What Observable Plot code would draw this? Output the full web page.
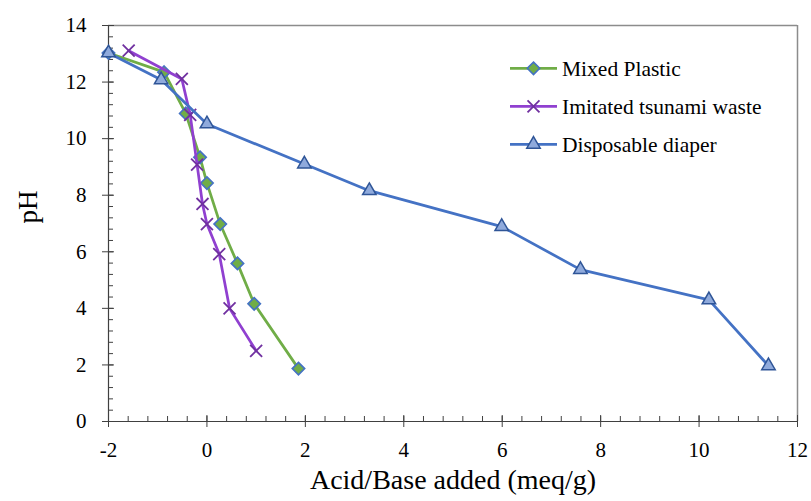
<!DOCTYPE html>
<html>
<head>
<meta charset="utf-8">
<script src="https://cdn.jsdelivr.net/npm/d3@7"></script>
<script src="https://cdn.jsdelivr.net/npm/@observablehq/plot@0.6"></script>
<style>
  html, body { margin: 0; padding: 0; background: #fff; }
  #chart { position: relative; width: 811px; height: 501px; }
  #chart svg text { font-family: 'Liberation Serif', 'Times New Roman', serif; }
</style>
</head>
<body>
<div id="chart"></div>
<script>
// Data
const plasticX = [-2.0, -0.87, -0.43, -0.14, 0.00, 0.27, 0.62, 0.96, 1.86];
const plasticY = [13.03, 12.35, 10.89, 9.34, 8.43, 6.98, 5.59, 4.16, 1.87];

const tsunamiX = [-1.59, -0.51, -0.34, -0.20, -0.09, 0.00, 0.25, 0.46, 1.00];
const tsunamiY = [13.11, 12.11, 10.84, 9.08, 7.69, 6.98, 5.92, 4.00, 2.50];

const diaperX = [-2.0, -0.93, 0.00, 1.98, 3.30, 5.99, 7.59, 10.20, 11.41];
const diaperY = [13.03, 12.08, 10.52, 9.10, 8.16, 6.89, 5.37, 4.30, 1.97];

const seriesNames = ["Mixed Plastic", "Imitated tsunami waste", "Disposable diaper"];
const xTicks = [-2, 0, 2, 4, 6, 8, 10, 12];
const yTicks = [0, 2, 4, 6, 8, 10, 12, 14];
const xTitle = "Acid/Base added (meq/g)";
const yTitle = "pH";

const toRows = (xs, ys) => xs.map((x, i) => ({x, y: ys[i]}));
const plastic = toRows(plasticX, plasticY);
const tsunami = toRows(tsunamiX, tsunamiY);
const diaper = toRows(diaperX, diaperY);

const xMinor = d3.range(0, 36).map(i => -2 + i * 0.4);
const yMinor = d3.range(0, 36).map(i => i * 0.4);

const C = {
  green: "#70AD47", blue: "#4472C4", blueDark: "#2F5597", blueFill: "#8FAADC",
  purple: "#9040D0", purpleDark: "#7030A0", axis: "#404040", frame: "#8C8C8C"
};
const FONT = "'Liberation Serif', 'Times New Roman', serif";

const chart = Plot.plot({
  width: 811,
  height: 501,
  marginLeft: 108,
  marginRight: 14,
  marginTop: 25,
  marginBottom: 80,
  style: {fontFamily: FONT, fontSize: "21px", color: "#000", background: "#fff"},
  x: {domain: [-2, 12]},
  y: {domain: [0, 14]},
  marks: [
    // frame
    Plot.ruleY([14], {stroke: C.frame, strokeWidth: 1.5}),
    Plot.ruleX([12], {stroke: C.frame, strokeWidth: 1.5}),
    // tick labels
    Plot.axisX({ticks: xTicks, tickSize: 0, tickPadding: 21, tickFormat: d => String(d), label: null, fill: "#000"}),
    Plot.axisY({ticks: yTicks, tickSize: 0, tickPadding: 22, tickFormat: d => String(d), label: null, fill: "#000"}),
    // minor ticks (inside)
    Plot.axisX({ticks: xMinor, tickSize: 5, dy: -5, tickFormat: () => "", label: null, stroke: C.axis}),
    Plot.axisY({ticks: yMinor, tickSize: 5, dx: 5, tickFormat: () => "", label: null, stroke: C.axis}),
    // major ticks (crossing)
    Plot.axisX({ticks: xTicks, tickSize: 12, dy: -6, tickFormat: () => "", label: null, stroke: C.axis}),
    Plot.axisY({ticks: yTicks, tickSize: 12, dx: 6, tickFormat: () => "", label: null, stroke: C.axis}),
    // axis lines
    Plot.ruleY([0], {stroke: C.axis, strokeWidth: 1.2}),
    Plot.ruleX([-2], {stroke: C.axis, strokeWidth: 1.2}),
    // series
    Plot.line(plastic, {x: "x", y: "y", stroke: C.green, strokeWidth: 2.75}),
    Plot.dot(plastic, {x: "x", y: "y", symbol: "diamond2", r: 5.6, fill: C.green, stroke: C.blue, strokeWidth: 1.6}),
    Plot.line(tsunami, {x: "x", y: "y", stroke: C.purple, strokeWidth: 2.75}),
    Plot.dot(tsunami, {x: "x", y: "y", symbol: "times", r: 5.5, fill: "none", stroke: C.purpleDark, strokeWidth: 1.8}),
    Plot.line(diaper, {x: "x", y: "y", stroke: C.blue, strokeWidth: 2.75}),
    Plot.dot(diaper, {x: "x", y: "y", symbol: "triangle", r: 5, fill: C.blueFill, stroke: C.blueDark, strokeWidth: 1.5}),
    // titles
    Plot.text([xTitle], {frameAnchor: "bottom", dy: 67.5, fontSize: 28, fill: "#000"}),
    Plot.text([yTitle], {frameAnchor: "left", dx: -80, rotate: -90, fontSize: 27, fill: "#000"})
  ]
});

document.getElementById("chart").appendChild(chart);

// Legend inside the plot area
const svg = d3.select(chart);
const legend = svg.append("g").attr("text-anchor", "start");
const legendStyles = [
  {line: C.green, type: d3.symbolDiamond2, r: 5.6, fill: C.green, stroke: C.blue, sw: 1.6},
  {line: C.purple, type: d3.symbolTimes, r: 5.5, fill: "none", stroke: C.purpleDark, sw: 1.8},
  {line: C.blue, type: d3.symbolTriangle, r: 5, fill: C.blueFill, stroke: C.blueDark, sw: 1.5}
];
seriesNames.forEach((name, i) => {
  const s = legendStyles[i];
  const y = 68.3 + i * 38;
  const g = legend.append("g").attr("transform", `translate(0,${y})`);
  g.append("line").attr("x1", 510).attr("x2", 557).attr("y1", 0).attr("y2", 0)
    .attr("stroke", s.line).attr("stroke-width", 2.75);
  g.append("path").attr("transform", "translate(533.5,0)")
    .attr("d", d3.symbol(s.type, Math.PI * s.r * s.r)())
    .attr("fill", s.fill).attr("stroke", s.stroke).attr("stroke-width", s.sw);
  g.append("text").attr("x", 562).attr("y", 0).attr("dy", "0.35em")
    .attr("text-anchor", "start").attr("fill", "#000")
    .style("font-family", FONT).style("font-size", "21.5px")
    .text(name);
});
</script>
</body>
</html>
